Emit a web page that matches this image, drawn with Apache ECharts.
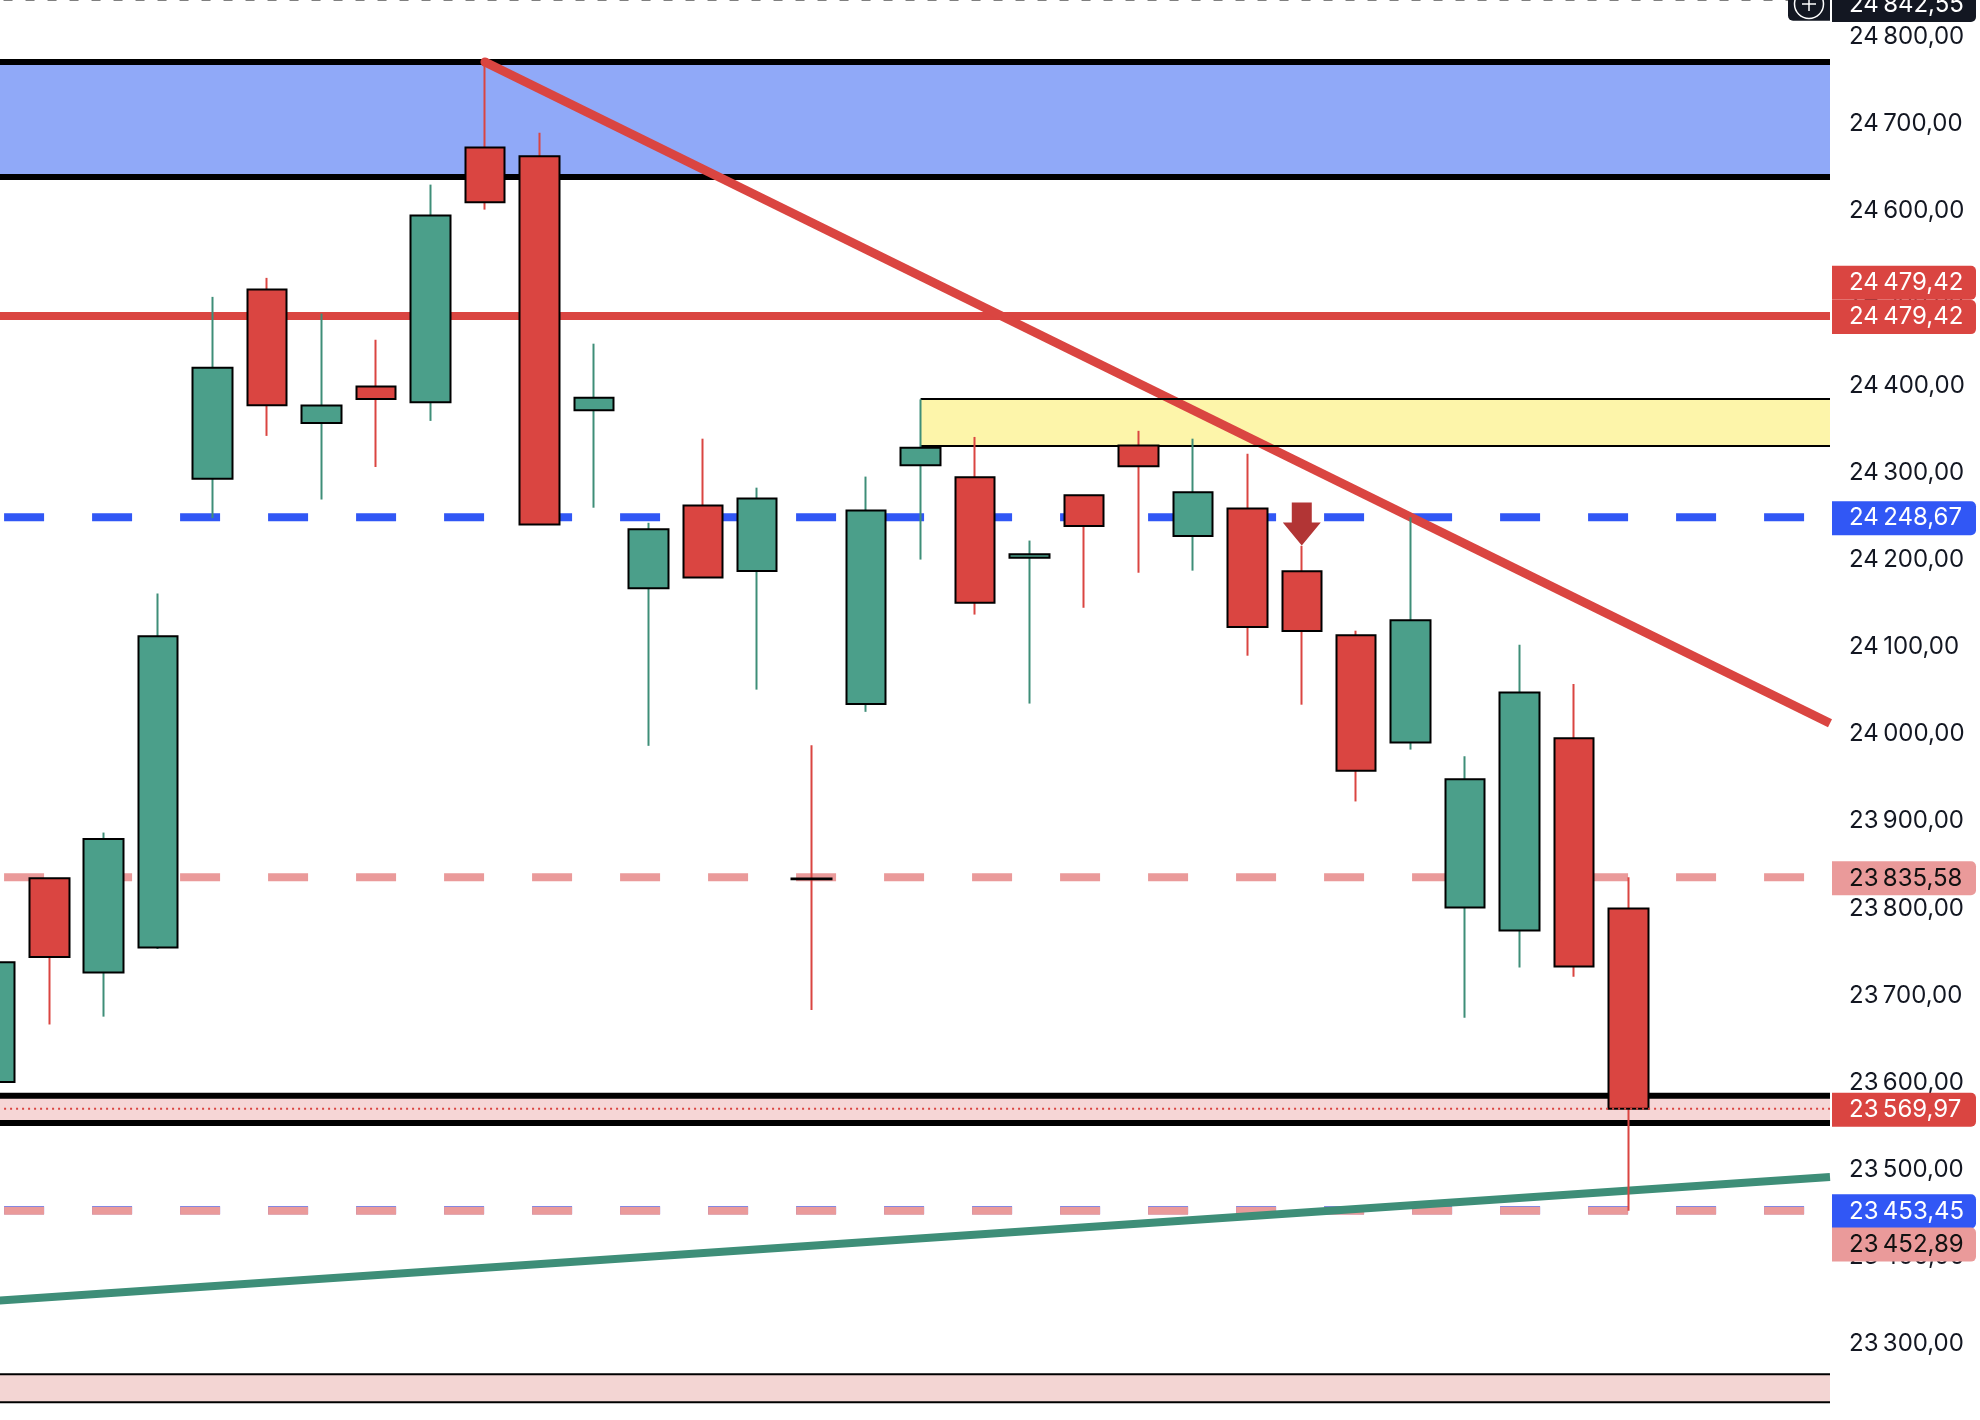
<!DOCTYPE html>
<html>
<head>
<meta charset="utf-8">
<style>html,body{margin:0;padding:0;background:#fff}#c{width:1980px;height:1420px}</style>
<script src="https://cdn.jsdelivr.net/npm/echarts@6/dist/echarts.min.js"></script>
</head>
<body>
<div id="c"></div>
<script>
// candles, left to right
const candleIndex = [0,1,2,3,4,5,6,7,8,9,10,11,12,13,14,15,16,17,18,19,20,21,22,23,24,25,26,27,28,29,30];
const opens  = [23600.7,23834.4,23726.2,23754.9,24292.8,24510.1,24356.8,24398.6,24380.6,24673.0,24662.7,24371.5,24167.3,24262.1,24187.0,23834.2,24034.5,24308.4,24294.5,24202.2,24274.0,24331.0,24227.2,24258.8,24186.6,24113.2,23990.3,23800.8,23774.4,23995.2,23799.7];
const closes = [23738.0,23744.2,23879.5,24112.0,24420.3,24377.3,24376.9,24384.3,24595.0,24610.2,24240.3,24385.9,24235.0,24179.6,24270.3,23833.2,24256.3,24328.5,24150.5,24206.3,24238.7,24307.2,24277.2,24122.6,24118.1,23957.9,24130.5,23948.0,24047.5,23733.2,23569.97];
const lows   = [23600.7,23666.7,23675.7,23753.2,24247.7,24342.0,24269.0,24306.3,24359.2,24601.6,24240.3,24259.6,23986.4,24179.6,24050.9,23683.3,24025.4,24200.1,24137.0,24034.9,24144.8,24185.0,24187.4,24089.8,24033.6,23922.6,23982.1,23674.4,23732.1,23721.6,23452.89];
const highs  = [23738.0,23834.4,23886.9,24161.2,24501.5,24523.3,24482.3,24452.3,24630.3,24770.3,24689.8,24447.8,24242.3,24338.8,24282.6,23987.0,24295.3,24383.9,24340.8,24221.9,24274.0,24347.8,24338.8,24321.5,24215.9,24118.5,24248.6,23974.4,24102.4,24057.4,23835.58];

// price levels and zones
const xStart = -0.5, xEnd = 33.7, xDash = 0.17, xDashEnd = 33.23;
const lastPriceTop = 24842.55;
const redLevel = 24479.42;
const blueDashTop = 24248.67, pinkDashTop = 23835.58;
const blueDashLow = 23453.45, pinkDashLow = 23452.89;
const dottedLevel = 23569.97;
const blueZone = [24771.0, 24638.9];
const yellowZone = [24384.4, 24330.4];
const pinkZone = [23584.8, 23553.8];
const lowZone = [23265.4, 23233.3];
const trendX = [9, 33.7], trendY = [24771.0, 24012.3];
const supportX = [-0.5, 33.7], supportY = [23347.6, 23491.8];
const arrowAt = [24, 24241];

// price scale
const axisMin = 23200, axisMax = 24900, axisStep = 100;
const tagValues  = [24842.55,24479.42,24479.42,24248.67,23835.58,23569.97,23453.45,23452.89];
const tagAnchors = [24837.6,24518.8,24479.42,24248.67,23835.58,23569.97,23453.45,23415.3];
const tagFills   = ['#131722','#DA4541','#DA4541','#3157F5','#EA9A9A','#DA4541','#3157F5','#EA9A9A'];
const tagInks    = ['#ffffff','#ffffff','#ffffff','#ffffff','#111111','#ffffff','#ffffff','#111111'];

const FONT = 'Inter';
const RED = '#DA4541', GREEN = '#4B9F8A', WICK_G = '#3E8E78';

function fmt(v){
  const s = v.toFixed(2).replace('.', ',');
  return s.slice(0, 2) + '\u202f' + s.slice(2);
}
function hline(name, y, x0, x1, color, width, type, z){
  return {type:'line', name, z, silent:true, symbol:'none', clip:true,
    data:[[x0,y],[x1,y]], lineStyle:{color, width, type, cap:'butt'}};
}
function zone(name, range, x0, x1, fill, z, edge, edgeZ){
  return [
    {type:'line', name, z, silent:true, symbol:'none', data:[],
      markArea:{silent:true, itemStyle:{color:fill, borderWidth:0},
        data:[[{xAxis:x0,yAxis:range[0]},{xAxis:x1,yAxis:range[1]}]]}},
    hline(name+' top', range[0], x0, x1, '#000', edge, 'solid', edgeZ),
    hline(name+' bottom', range[1], x0, x1, '#000', edge, 'solid', edgeZ)
  ];
}

const wickData = candleIndex.map(i => [i, opens[i], closes[i], lows[i], highs[i]]);
const bodyData = candleIndex.map(i => [i, opens[i], closes[i],
  Math.min(opens[i],closes[i]), Math.max(opens[i],closes[i])]);

const chart = echarts.init(document.getElementById('c'), null, {renderer:'canvas'});
chart.setOption({
  animation:false,
  backgroundColor:'#fff',
  textStyle:{fontFamily:FONT},
  grid:{left:-32.4, width:1862.4, top:-50.46, height:1481.72, containLabel:false, outerBoundsMode:'none'},
  xAxis:{type:'value', min:xStart, max:xEnd, show:false},
  yAxis:{type:'value', position:'right', min:axisMin, max:axisMax, interval:axisStep, z:0,
    axisLine:{show:false}, axisTick:{show:false}, splitLine:{show:false},
    axisLabel:{show:true, showMinLabel:true, showMaxLabel:true, align:'left', margin:19,
      fontFamily:FONT, fontSize:24, color:'#131722', formatter:v => fmt(v)}},
  graphic:[
    {type:'rect', z:50, shape:{x:1788,y:-10,width:42,height:30.7,r:[0,0,0,5]}, style:{fill:'#131722'}},
    {type:'circle', z:51, shape:{cx:1809,cy:4,r:14.5}, style:{fill:'none',stroke:'#fff',lineWidth:1.5}},
    {type:'line', z:51, shape:{x1:1809,y1:-3,x2:1809,y2:11}, style:{stroke:'#fff',lineWidth:1.5}},
    {type:'line', z:51, shape:{x1:1802,y1:4,x2:1816,y2:4}, style:{stroke:'#fff',lineWidth:1.5}}
  ],
  series:[
    ...zone('Blue zone', blueZone, xStart, xEnd, '#90A9F8', 1, 6, 1),
    ...zone('Pink zone', pinkZone, xStart, xEnd, '#F6D6D6', 1, 6, 1),
    ...zone('Low zone', lowZone, xStart, xEnd, '#F3D5D3', 1, 2, 1),
    hline('Last price', lastPriceTop, 0.16, 32.98, '#000', 2, [9,13], 1),
    hline('Red level', redLevel, xStart, xEnd, RED, 8, 'solid', 1),
    hline('Blue dash upper', blueDashTop, xDash, xDashEnd, '#3157F5', 8, [40,48], 1),
    hline('Pink dash upper', pinkDashTop, xDash, xDashEnd, '#EA9A9A', 8, [40,48], 1),
    hline('Blue dash lower', blueDashLow, xDash, xDashEnd, '#3157F5', 8, [40,48], 1),
    hline('Pink dash lower', pinkDashLow, xDash, xDashEnd, '#EA9A9A', 8, [40,48], 1),
    {type:'line', name:'Trend', z:2, silent:true, symbol:'none',
      data:trendX.map((x,i)=>[x,trendY[i]]), lineStyle:{color:RED,width:9,cap:'butt'}},
    {type:'scatter', name:'Trend start', z:2, silent:true, symbol:'circle', symbolSize:9,
      itemStyle:{color:RED,opacity:1}, data:[[trendX[0],trendY[0]]]},
    {type:'line', name:'Support', z:2, silent:true, symbol:'none',
      data:supportX.map((x,i)=>[x,supportY[i]]), lineStyle:{color:WICK_G,width:8,cap:'butt'}},
    ...zone('Yellow zone', yellowZone, 17, xEnd, 'rgba(250,230,42,0.4)', 3, 2, 3),
    {type:'candlestick', name:'Wicks', z:4, silent:true, barWidth:0.01,
      encode:{x:0,y:[1,2,3,4]}, data:wickData,
      itemStyle:{color:WICK_G,color0:RED,borderColor:WICK_G,borderColor0:RED,borderWidth:2}},
    {type:'candlestick', name:'Bodies', z:5, silent:true, barWidth:40,
      encode:{x:0,y:[1,2,3,4]}, data:bodyData,
      itemStyle:{color:GREEN,color0:RED,borderColor:'#000',borderColor0:'#000',borderWidth:2}},
    hline('Dotted level', dottedLevel, xDash, xEnd, RED, 2, [2,4], 6),
    {type:'scatter', name:'Arrow', z:6, silent:true,
      symbol:'path://M9,0 H29 V20 H38 L19,43 L0,20 H9 Z', symbolSize:[38,43],
      itemStyle:{color:'#B23535',opacity:1}, data:[arrowAt]},
    {type:'scatter', name:'Tags', z:10, silent:true, symbolSize:0, clip:false,
      itemStyle:{opacity:1},
      data:tagAnchors.map((y,i)=>({
        value:[xEnd,y],
        itemStyle:{opacity:1},
        label:{show:true, opacity:1, position:'right', distance:2, offset:[0,1],
          formatter:fmt(tagValues[i]),
          fontFamily:FONT, fontSize:24, lineHeight:22, color:tagInks[i],
          backgroundColor:tagFills[i], borderRadius:[0,5,5,0],
          padding:[6,11,6,17], width:116, align:'left', verticalAlign:'middle'}
      }))}
  ]
});
</script>
</body>
</html>
